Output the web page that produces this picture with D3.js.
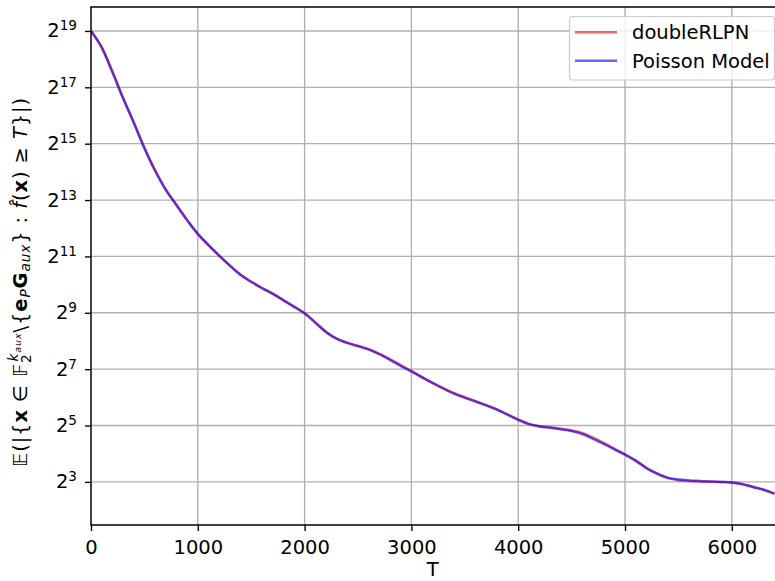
<!DOCTYPE html>
<html>
<head>
<meta charset="utf-8">
<script src="https://cdn.jsdelivr.net/npm/d3@7"></script>
<style>
  body { margin: 0; background: #fff; }
  svg { display: block; font-family: "DejaVu Sans", sans-serif; }
  .grid line { stroke: #b0b0b0; stroke-width: 1.35; }
</style>
</head>
<body>
<div id="chart"></div>
<script>

// T thresholds (x) and expected list sizes (y, log2 axis)
var thresholds = [0, 100, 200, 300, 400, 500, 600, 700, 800, 900, 1000, 1200, 1400, 1500, 1600, 1700, 1800, 1900,
  2000, 2100, 2200, 2300, 2400, 2500, 2600, 2700, 2800, 2900, 3000, 3200, 3400, 3600, 3800, 4000, 4100, 4200,
  4300, 4400, 4500, 4600, 4700, 4800, 4900, 5000, 5100, 5200, 5300, 5400, 5500, 5600, 5700, 5800, 5900, 6000,
  6100, 6200, 6300, 6400];

var doubleRLPN = [524288, 350760, 191900, 100720, 55110, 29530, 16960, 10600, 7250, 5000, 3566, 2091, 1305, 1098, 942, 820, 699, 596,
  505, 402, 320, 271, 244, 226, 209, 186, 163, 141, 122, 91.5, 70.8, 58.3, 47.7, 37.0, 33.3,
  31.4, 30.5, 29.5, 28.3, 26.6, 23.7, 20.9, 18.1, 15.7, 13.5, 11.2, 9.75, 8.78, 8.35, 8.18, 8.08,
  8.02, 7.98, 7.88, 7.56, 7.05, 6.58, 5.98];

var poissonModel = [524288, 350760, 191900, 100720, 55110, 29530, 16960, 10600, 7250, 5000, 3566, 2091, 1305, 1098, 942, 820, 699, 596,
  505, 402, 320, 271, 244, 226, 208, 185, 161, 139, 121, 90.5, 70.0, 57.7, 47.2, 36.8, 33.1,
  31.3, 30.3, 29.2, 27.9, 26.0, 23.1, 20.4, 17.8, 15.6, 13.5, 11.3, 9.85, 8.88, 8.46, 8.28, 8.17,
  8.06, 8.0, 7.89, 7.57, 7.06, 6.59, 5.98];

var xTicks = [0, 1000, 2000, 3000, 4000, 5000, 6000];
var yExponents = [3, 5, 7, 9, 11, 13, 15, 17, 19];

var seriesNames = ["doubleRLPN", "Poisson Model"];
var seriesColors = ["#ff0000", "#0000ff"];

var W = 775, H = 581;
var FS = 19.5;
var plot = { left: 91, top: 7, right: 775.6, bottom: 525 };

var svg = d3.select("#chart").append("svg")
  .attr("width", W)
  .attr("height", H);

var x = d3.scaleLinear().domain([0, 6410]).range([plot.left, plot.right]);
var y = d3.scaleLog().base(2)
  .domain([Math.pow(2, 1.47), Math.pow(2, 19.85)])
  .range([plot.bottom, plot.top]);

// grid
var grid = svg.append("g").attr("class", "grid");
grid.selectAll(".gx").data(xTicks).enter().append("line")
  .attr("x1", function (d) { return x(d); }).attr("x2", function (d) { return x(d); })
  .attr("y1", plot.top).attr("y2", plot.bottom);
grid.selectAll(".gy").data(yExponents).enter().append("line")
  .attr("x1", plot.left).attr("x2", plot.right)
  .attr("y1", function (d) { return y(Math.pow(2, d)); })
  .attr("y2", function (d) { return y(Math.pow(2, d)); });

svg.append("clipPath").attr("id", "clip")
  .append("rect")
  .attr("x", plot.left).attr("y", plot.top)
  .attr("width", plot.right - plot.left).attr("height", plot.bottom - plot.top);

var line = d3.line()
  .x(function (d) { return x(d[0]); })
  .y(function (d) { return y(d[1]); })
  .curve(d3.curveCatmullRom.alpha(0.5));

[doubleRLPN, poissonModel].forEach(function (vals, i) {
  svg.append("path")
    .datum(thresholds.map(function (t, j) { return [t, vals[j]]; }))
    .attr("clip-path", "url(#clip)")
    .attr("fill", "none")
    .attr("stroke", seriesColors[i])
    .attr("stroke-opacity", 0.6)
    .attr("stroke-width", 2.5)
    .attr("stroke-linejoin", "round")
    .attr("d", line);
});

// axes
var xAxis = svg.append("g")
  .attr("transform", "translate(0," + plot.bottom + ")")
  .call(d3.axisBottom(x).tickValues(xTicks).tickFormat(d3.format("d")).tickSize(6).tickSizeOuter(0));
xAxis.select(".domain").remove();
xAxis.selectAll("line").attr("stroke", "#000").attr("stroke-width", 1.35);
xAxis.selectAll("text")
  .attr("y", 29).attr("dy", null)
  .attr("font-size", FS).attr("font-family", "DejaVu Sans").attr("fill", "#000");

var yAxis = svg.append("g")
  .attr("transform", "translate(" + plot.left + ",0)")
  .call(d3.axisLeft(y).tickValues(yExponents.map(function (e) { return Math.pow(2, e); }))
    .tickSize(6).tickFormat(""));
yAxis.select(".domain").remove();
yAxis.selectAll("line").attr("stroke", "#000").attr("stroke-width", 1.35);

var ylab = yAxis.selectAll(".tick").append("text")
  .attr("x", -14)
  .attr("y", 6)
  .attr("text-anchor", "end")
  .attr("fill", "#000")
  .attr("font-size", FS)
  .attr("font-family", "DejaVu Sans");
ylab.append("tspan").text("2");
ylab.append("tspan").attr("dy", -7).attr("font-size", 13.6)
  .text(function (d) { return Math.round(Math.log2(d)); });

// spines
svg.append("line").attr("x1", plot.left).attr("x2", plot.left).attr("y1", plot.top).attr("y2", plot.bottom)
  .attr("stroke", "#000").attr("stroke-width", 1.35);
svg.append("line").attr("x1", plot.left).attr("x2", plot.right).attr("y1", plot.bottom).attr("y2", plot.bottom)
  .attr("stroke", "#000").attr("stroke-width", 1.35).attr("stroke-linecap", "square");
svg.append("line").attr("x1", plot.left).attr("x2", plot.right).attr("y1", plot.top).attr("y2", plot.top)
  .attr("stroke", "#000").attr("stroke-width", 1.35).attr("stroke-linecap", "square");

// x label
svg.append("text")
  .attr("x", (plot.left + plot.right) / 2 - 0.5)
  .attr("y", 576)
  .attr("text-anchor", "middle")
  .attr("font-size", FS)
  .text("T");

// y label
var yl = svg.append("text")
  .attr("transform", "rotate(-90)")
  .attr("x", -282)
  .attr("y", 27)
  .attr("text-anchor", "middle")
  .attr("letter-spacing", 0.9)
  .attr("font-size", FS);
yl.append("tspan").text("𝔼(|{");
yl.append("tspan").attr("font-weight", "bold").text("x");
yl.append("tspan").text(" ∈ 𝔽");
yl.append("tspan").attr("font-size", 13.6).attr("dy", 4).text("2");
yl.append("tspan").attr("font-size", 13.6).attr("font-style", "italic").attr("dx", -8).attr("dy", -13).text("k");
yl.append("tspan").attr("font-size", 9.5).attr("font-style", "italic").attr("dy", 3).text("aux");
yl.append("tspan").attr("dy", 6).text("\\{");
yl.append("tspan").attr("font-weight", "bold").text("e");
yl.append("tspan").attr("font-size", 13.6).attr("font-style", "italic").attr("dy", 3).text("P");
yl.append("tspan").attr("font-weight", "bold").attr("dy", -3).text("G");
yl.append("tspan").attr("font-size", 13.6).attr("font-style", "italic").attr("dy", 3).text("aux");
yl.append("tspan").attr("dy", -3).text("} : ");
yl.append("tspan").attr("font-style", "italic").text("f̂");
yl.append("tspan").text("(");
yl.append("tspan").attr("font-weight", "bold").text("x");
yl.append("tspan").text(") ≥ ");
yl.append("tspan").attr("font-style", "italic").text("T");
yl.append("tspan").text("}|)");

// legend
var lg = svg.append("g");
lg.append("rect")
  .attr("x", 569.5).attr("y", 16.5)
  .attr("width", 205).attr("height", 63.5)
  .attr("rx", 3.5)
  .attr("fill", "#fff").attr("fill-opacity", 0.8)
  .attr("stroke", "#cccccc").attr("stroke-width", 1.2);
seriesNames.forEach(function (name, i) {
  var yy = 32.3 + i * 28.4;
  lg.append("line")
    .attr("x1", 575).attr("x2", 617)
    .attr("y1", yy).attr("y2", yy)
    .attr("stroke", seriesColors[i]).attr("stroke-opacity", 0.6).attr("stroke-width", 2.5);
  lg.append("text")
    .attr("x", 632).attr("y", yy + 7)
    .attr("font-size", FS)
    .text(name);
});

</script>
</body>
</html>
